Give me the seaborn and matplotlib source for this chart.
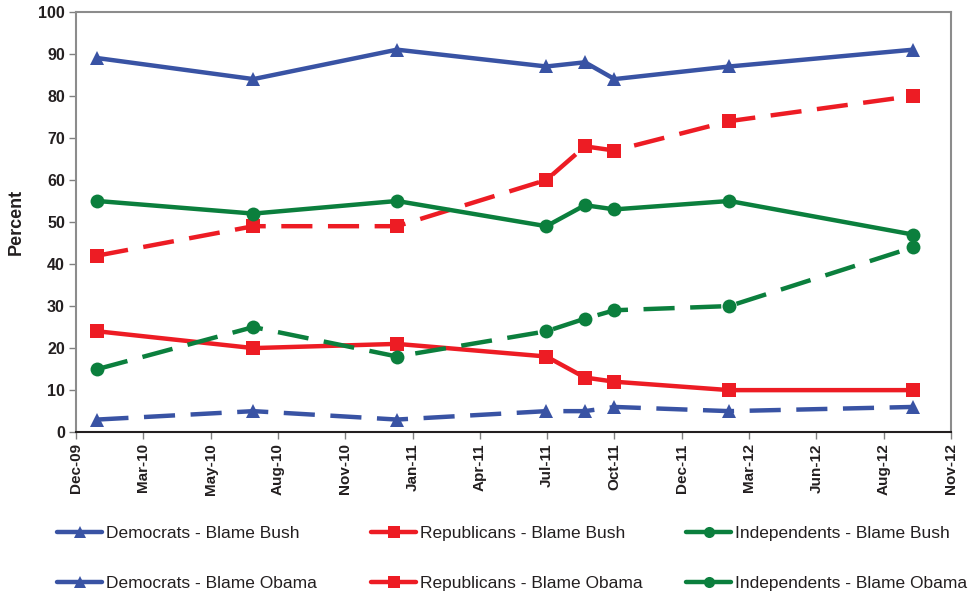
import numpy as np
import pandas as pd
import seaborn as sns
import matplotlib.pyplot as plt
import matplotlib.dates as mdates
from matplotlib.lines import Line2D

# survey dates
dates = pd.to_datetime([
    "2010-01-10", "2010-07-19", "2011-01-10", "2011-07-11",
    "2011-08-27", "2011-10-02", "2012-02-19", "2012-09-30",
])

dem_bush = [89, 84, 91, 87, 88, 84, 87, 91]
dem_obama = [3, 5, 3, 5, 5, 6, 5, 6]
rep_bush = [24, 20, 21, 18, 13, 12, 10, 10]
rep_obama = [42, 49, 49, 60, 68, 67, 74, 80]
ind_bush = [55, 52, 55, 49, 54, 53, 55, 47]
ind_obama = [15, 25, 18, 24, 27, 29, 30, 44]

# excel-style date axis: start date + fixed major unit in days
axis_start = pd.Timestamp("2009-12-15")
major_unit = 82
n_ticks = 14

BLUE = "#3953a4"
RED = "#ed1c24"
GREEN = "#0b7f3d"

series = [
    ("Democrats - Blame Bush", dem_bush, BLUE, "^", "-"),
    ("Democrats - Blame Obama", dem_obama, BLUE, "^", "--"),
    ("Republicans - Blame Bush", rep_bush, RED, "s", "-"),
    ("Republicans - Blame Obama", rep_obama, RED, "s", "--"),
    ("Independents - Blame Bush", ind_bush, GREEN, "o", "-"),
    ("Independents - Blame Obama", ind_obama, GREEN, "o", "--"),
]

sns.set_style("white")
plt.rcParams["font.family"] = ["Liberation Sans", "DejaVu Sans"]

fig = plt.figure(figsize=(9.7, 5.92), dpi=100)
ax = fig.add_axes([0.0784, 0.270, 0.902, 0.710])

msize = {"^": 10.5, "s": 10, "o": 10}
handles = []
for label, vals, color, marker, ls in series:
    df = pd.DataFrame({"Date": dates, "Percent": vals})
    sns.lineplot(data=df, x="Date", y="Percent", ax=ax, color=color,
                 marker=marker, markersize=msize[marker], markeredgewidth=0,
                 linewidth=3.2)
    line = ax.lines[-1]
    if ls == "--":
        line.set_dashes((7, 3.5))
    handles.append(Line2D([], [], color=color, marker=marker, markersize=msize[marker] * 0.8,
                          markeredgewidth=0, linewidth=3.2, label=label))

ax.set_ylim(0, 100)
ax.set_yticks(np.arange(0, 101, 10))
ticks = [axis_start + pd.Timedelta(days=major_unit * k) for k in range(n_ticks)]
ax.set_xlim(ticks[0], ticks[-1])
ax.set_xticks(ticks)
ax.xaxis.set_major_formatter(mdates.DateFormatter("%b-%y"))

for lab in ax.get_xticklabels():
    lab.set_rotation(90)
    lab.set_fontweight("bold")
    lab.set_fontsize(11)
    lab.set_color("#231f20")
for lab in ax.get_yticklabels():
    lab.set_fontweight("bold")
    lab.set_fontsize(11.5)
    lab.set_color("#231f20")

ax.tick_params(axis="both", which="major", direction="out", length=5,
               width=1, color="#808080", left=True, bottom=True, pad=3)
ax.set_xlabel("")
ax.set_ylabel("Percent", fontsize=13, fontweight="bold", color="#231f20", labelpad=10)

for side in ["top", "right", "left"]:
    ax.spines[side].set_color("#8c8c8c")
    ax.spines[side].set_linewidth(1.5)
ax.spines["bottom"].set_color("#231f20")
ax.spines["bottom"].set_linewidth(1.5)

# one legend per party column, placed like the original's 3x2 key
col_x = [57 / 970, 371 / 970, 686 / 970]
for i, x0 in enumerate(col_x):
    fig.legend(handles=handles[2 * i:2 * i + 2], loc="upper left",
               bbox_to_anchor=(x0, 0.112), frameon=False, fontsize=12.5,
               handlelength=2.6, handletextpad=0.2, labelspacing=2.0,
               borderaxespad=0, borderpad=0, labelcolor="#231f20")

fig.savefig("out.png", dpi=100)
